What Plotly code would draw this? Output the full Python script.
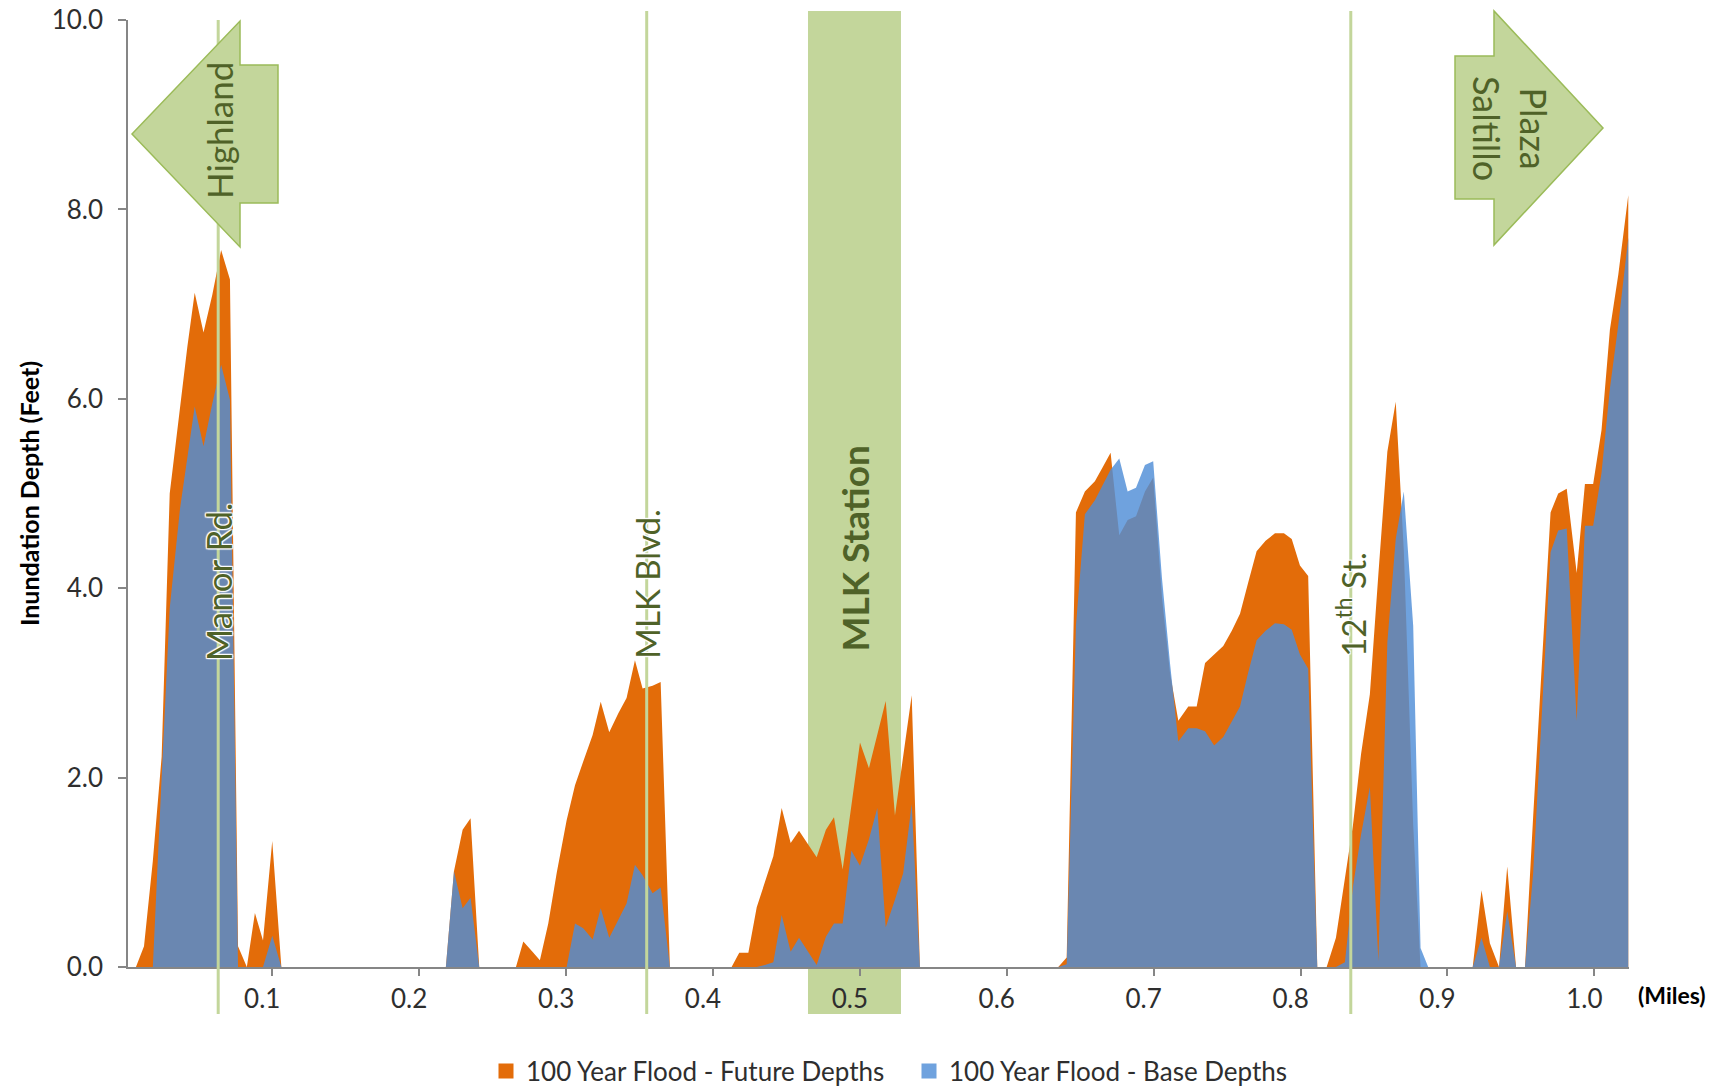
import plotly.graph_objects as go

# ---------------- data ----------------
miles = [
    0.0140, 0.0195, 0.0255, 0.0315, 0.0370, 0.0440, 0.0490, 0.0540, 0.0600, 0.0660, 0.0720, 0.0780,
    0.0835, 0.0895, 0.0950, 0.1005, 0.1068, 0.1130,
    0.2250, 0.2305, 0.2364, 0.2418, 0.2477,
    0.2727, 0.2777, 0.2835, 0.2890, 0.2947, 0.3004, 0.3072, 0.3129, 0.3185, 0.3249, 0.3304, 0.3362,
    0.3424, 0.3480, 0.3537, 0.3589, 0.3657, 0.3712, 0.3775,
    0.4195, 0.4247, 0.4309, 0.4366, 0.4422, 0.4479, 0.4536, 0.4597, 0.4654, 0.4712, 0.4774, 0.4837,
    0.4892, 0.4951, 0.5010, 0.5069, 0.5130, 0.5187, 0.5244, 0.5307, 0.5363, 0.5421, 0.5477,
    0.6419, 0.6476, 0.6539, 0.6600, 0.6668, 0.6722, 0.6775, 0.6834, 0.6891, 0.6948, 0.7009, 0.7065,
    0.7125, 0.7180, 0.7236, 0.7304, 0.7361, 0.7418, 0.7480, 0.7542, 0.7600, 0.7656, 0.7710, 0.7769,
    0.7830, 0.7894, 0.7955, 0.8008, 0.8064, 0.8120, 0.8182,
    0.8246, 0.8309, 0.8370, 0.8425, 0.8480, 0.8540, 0.8598, 0.8659, 0.8716, 0.8771, 0.8835, 0.8885,
    0.8937,
    0.9240, 0.9300, 0.9357, 0.9419, 0.9475, 0.9535, 0.9596, 0.9652, 0.9710, 0.9770, 0.9822, 0.9880,
    0.9948, 1.0004, 1.0060, 1.0117, 1.0174, 1.0231, 1.0299,
]

future_depths = [
    0.00, 0.22, 1.12, 2.22, 5.00, 5.94, 6.55, 7.12, 6.70, 7.10, 7.57, 7.26,
    0.22, 0.00, 0.57, 0.28, 1.33, 0.00,
    0.00, 1.01, 1.45, 1.57, 0.00,
    0.00, 0.27, 0.17, 0.07, 0.46, 0.99, 1.55, 1.92, 2.17, 2.45, 2.80, 2.48,
    2.68, 2.84, 3.24, 2.94, 2.97, 3.01, 0.00,
    0.00, 0.15, 0.15, 0.63, 0.90, 1.17, 1.68, 1.31, 1.44, 1.30, 1.16, 1.45,
    1.58, 1.03, 1.70, 2.37, 2.10, 2.44, 2.81, 1.60, 2.23, 2.87, 0.00,
    0.00, 0.10, 4.80, 5.02, 5.13, 5.28, 5.43, 4.56, 4.72, 4.76, 5.02, 5.17,
    3.90, 3.10, 2.60, 2.75, 2.75, 3.21, 3.30, 3.39, 3.55, 3.73, 4.05, 4.39,
    4.50, 4.58, 4.58, 4.52, 4.24, 4.13, 0.00,
    0.00, 0.31, 0.95, 1.50, 2.25, 2.88, 4.15, 5.44, 5.97, 4.40, 1.50, 0.00,
    0.00,
    0.00, 0.81, 0.25, 0.00, 1.06, 0.00, 0.00, 1.60, 3.20, 4.80, 5.00, 5.05,
    4.16, 5.10, 5.10, 5.67, 6.73, 7.31, 8.15,
]

base_depths = [
    0.00, 0.00, 0.00, 2.00, 3.79, 4.84, 5.40, 5.92, 5.50, 5.95, 6.36, 5.99,
    0.00, 0.00, 0.00, 0.00, 0.33, 0.00,
    0.00, 1.01, 0.62, 0.73, 0.00,
    0.00, 0.00, 0.00, 0.00, 0.00, 0.00, 0.00, 0.46, 0.41, 0.29, 0.62, 0.31,
    0.50, 0.67, 1.08, 0.97, 0.78, 0.84, 0.00,
    0.00, 0.00, 0.00, 0.00, 0.02, 0.05, 0.55, 0.16, 0.31, 0.17, 0.02, 0.32,
    0.46, 0.46, 1.23, 1.07, 1.35, 1.68, 0.42, 0.71, 0.99, 1.72, 0.00,
    0.00, 0.03, 3.60, 4.78, 4.93, 5.10, 5.25, 5.37, 5.02, 5.06, 5.30, 5.34,
    4.10, 3.20, 2.38, 2.52, 2.52, 2.49, 2.34, 2.43, 2.60, 2.75, 3.10, 3.45,
    3.55, 3.63, 3.62, 3.56, 3.30, 3.15, 0.00,
    0.00, 0.00, 0.05, 0.85, 1.40, 1.90, 0.06, 3.43, 4.52, 5.02, 3.60, 0.20,
    0.00,
    0.00, 0.31, 0.00, 0.00, 0.59, 0.00, 0.00, 1.00, 2.60, 4.38, 4.61, 4.63,
    2.60, 4.66, 4.66, 5.22, 6.11, 6.78, 7.70,
]

series_names = ["100 Year Flood - Future Depths", "100 Year Flood - Base Depths"]

x_tick_vals = [0.1, 0.2, 0.3, 0.4, 0.5, 0.6, 0.7, 0.8, 0.9, 1.0]
x_tick_text = ["0.1", "0.2", "0.3", "0.4", "0.5", "0.6", "0.7", "0.8", "0.9", "1.0"]
y_tick_vals = [0, 2, 4, 6, 8, 10]
y_tick_text = ["0.0", "2.0", "4.0", "6.0", "8.0", "10.0"]

street_names = ["Manor Rd.", "MLK Blvd.", "12<sup>th</sup> St."]
street_miles = [0.070, 0.3617, 0.841]
station_name = "MLK Station"
station_span = [0.4715, 0.5348]

# ---------------- styling ----------------
ORANGE = "#E36C09"
BLUE = "rgba(79,142,215,0.82)"
GREEN = "#C3D69B"
GREEN_EDGE = "#9BBB59"
GREEN_TEXT = "#4F6228"
AXIS = "#868686"
TXT = "#2e2e2e"
FONT = "Lato, 'Open Sans', sans-serif"

W, H = 1728, 1086
L, R, T, B = 128, 99, 20, 119
PW, PH = W - L - R, H - T - B


def px(x):
    return (x - L) / PW


def py(y):
    return (H - B - y) / PH


fig = go.Figure()

fig.add_trace(go.Scatter(
    x=miles, y=future_depths, mode="lines", fill="tozeroy",
    line=dict(width=0, color=ORANGE), fillcolor=ORANGE,
    name=series_names[0], showlegend=False, hoverinfo="x+y"))
fig.add_trace(go.Scatter(
    x=miles, y=base_depths, mode="lines", fill="tozeroy",
    line=dict(width=0, color=BLUE), fillcolor=BLUE,
    name=series_names[1], showlegend=False, hoverinfo="x+y"))

# legend entries (square swatches)
for nm, col in zip(series_names, [ORANGE, BLUE]):
    fig.add_trace(go.Scatter(
        x=[None], y=[None], mode="markers", name=nm,
        marker=dict(symbol="square", size=15, color=col)))

shapes = []
# station band (below data)
shapes.append(dict(type="rect", xref="x", yref="paper",
                   x0=station_span[0], x1=station_span[1], y0=py(1014), y1=py(11),
                   fillcolor=GREEN, line=dict(width=0), layer="below"))
# street lines
tops = [py(20), py(11), py(11)]
for xm, top in zip(street_miles, tops):
    shapes.append(dict(type="line", xref="x", yref="paper",
                       x0=xm, x1=xm, y0=py(1014), y1=top,
                       line=dict(color=GREEN, width=3), layer="above"))


# direction arrows (paper coordinates)
def path(pts):
    return "M " + " L ".join(f"{px(a):.5f},{py(b):.5f}" for a, b in pts) + " Z"


highland = [(132, 134), (240, 21), (240, 65), (278, 65), (278, 203), (240, 203), (240, 247)]
plaza = [(1603, 128), (1494, 11), (1494, 56), (1455, 56), (1455, 199), (1494, 199), (1494, 245)]
for pts in (highland, plaza):
    shapes.append(dict(type="path", xref="paper", yref="paper", path=path(pts),
                       fillcolor=GREEN, line=dict(color=GREEN_EDGE, width=1.5), layer="above"))

halo = ("0 0 2px white, 0 0 2px white, 1px 1px 1px white, -1px -1px 1px white, "
        "1px -1px 1px white, -1px 1px 1px white")
annotations = []
label_y = [582, 584, 604]
label_size = [35, 33, 33]
for nm, xm, yy, sz in zip(street_names, street_miles, label_y, label_size):
    annotations.append(dict(text=nm, x=xm, xref="x", y=py(yy), yref="paper",
                            textangle=-90, showarrow=False, xanchor="center", yanchor="middle",
                            font=dict(family=FONT, size=sz, color=GREEN_TEXT, shadow=halo)))
annotations.append(dict(text=f"<b>{station_name}</b>", x=sum(station_span) / 2, xref="x",
                        y=py(548), yref="paper", textangle=-90, showarrow=False,
                        xanchor="center", yanchor="middle",
                        font=dict(family=FONT, size=37, color=GREEN_TEXT)))
annotations.append(dict(text="Highland", x=px(219), xref="paper", y=py(131), yref="paper",
                        textangle=-90, showarrow=False, xanchor="center", yanchor="middle",
                        font=dict(family=FONT, size=35, color=GREEN_TEXT)))
annotations.append(dict(text="Plaza<br>Saltillo", x=px(1511), xref="paper", y=py(128), yref="paper",
                        textangle=90, showarrow=False, xanchor="center", yanchor="middle",
                        font=dict(family=FONT, size=36, color=GREEN_TEXT)))
annotations.append(dict(text="<b>Inundation Depth (Feet)</b>", x=px(29), xref="paper",
                        y=py(493), yref="paper", textangle=-90, showarrow=False,
                        xanchor="center", yanchor="middle",
                        font=dict(family=FONT, size=25, color="black")))
annotations.append(dict(text="<b>(Miles)</b>", x=px(1672), xref="paper", y=py(995), yref="paper",
                        showarrow=False, xanchor="center", yanchor="middle",
                        font=dict(family=FONT, size=23, color="black")))

fig.update_layout(
    width=W, height=H,
    margin=dict(l=L, r=R, t=T, b=B, pad=0, autoexpand=False),
    paper_bgcolor="white", plot_bgcolor="white",
    font=dict(family=FONT, color=TXT),
    shapes=shapes, annotations=annotations,
    showlegend=True,
    legend=dict(orientation="h", x=px(909), xanchor="center", y=py(1071), yanchor="middle",
                font=dict(family=FONT, size=26, color=TXT), itemwidth=30,
                entrywidth=378, entrywidthmode="pixels",
                bgcolor="rgba(0,0,0,0)"),
    xaxis=dict(range=[0.0086, 1.0304], showgrid=False, zeroline=False,
               showline=True, linecolor=AXIS, linewidth=1.5, automargin=False,
               tickmode="array", tickvals=x_tick_vals, ticktext=x_tick_text,
               ticks="outside", ticklen=8, tickcolor="rgba(0,0,0,0)",
               tickfont=dict(family=FONT, size=26, color=TXT),
               minor=dict(tickmode="linear", tick0=0.0068, dtick=0.1, ticks="outside",
                          ticklen=7, tickcolor=AXIS, tickwidth=1.5, showgrid=False)),
    yaxis=dict(range=[0, 10], showgrid=False, zeroline=False,
               showline=True, linecolor=AXIS, linewidth=1.5, automargin=False,
               tickmode="array", tickvals=y_tick_vals, ticktext=y_tick_text,
               ticks="outside", ticklen=8, tickcolor=AXIS, tickwidth=1.5,
               ticklabelstandoff=10,
               tickfont=dict(family=FONT, size=26, color=TXT)),
)

fig.write_html("out.html", config={"displayModeBar": False},
               post_script="document.body.style.margin='0';document.body.style.overflow='hidden';")
